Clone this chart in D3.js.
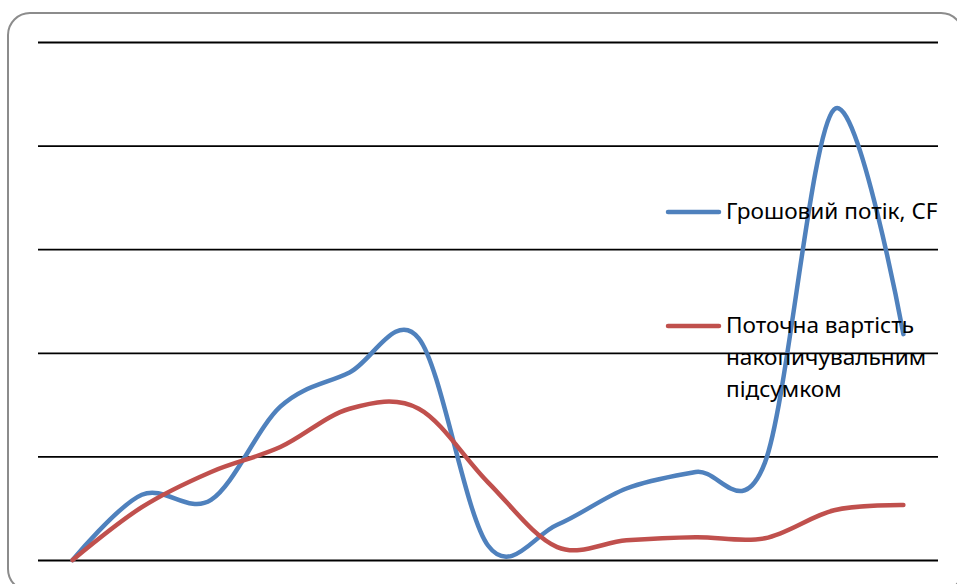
<!DOCTYPE html>
<html>
<head>
<meta charset="utf-8">
<script src="https://cdn.jsdelivr.net/npm/d3@7"></script>
<style>
  html, body { margin: 0; padding: 0; background: #fff; }
  svg { display: block; }
</style>
</head>
<body>
<svg id="chart" width="957" height="584"></svg>
<script>
// Periods (categories along the horizontal axis)
const periods = ["0", "1", "2", "3", "4", "5", "6", "7", "8", "9", "10", "11", "12"];

// Cash flow per period
const cashFlow = [0, 6.3, 5.8, 14.8, 18.1, 21.4, 1.4, 3.4, 6.9, 8.5, 9.4, 43.5, 21.8];

// Present value, cumulative
const presentValueCum = [0, 5.1, 8.5, 10.9, 14.6, 14.6, 7.5, 1.25, 1.9, 2.2, 2.1, 4.8, 5.3];

// Value gridlines
const gridTicks = [0, 10, 20, 30, 40, 50];

const seriesNames = ["Грошовий потік, CF", "Поточна вартість накопичувальним підсумком"];
const seriesColors = ["#4F81BD", "#C0504D"];

const svg = d3.select("#chart");

// Chart frame
svg.append("rect")
  .attr("x", 8).attr("y", 13)
  .attr("width", 955).attr("height", 578)
  .attr("rx", 22).attr("ry", 22)
  .attr("fill", "#fff")
  .attr("stroke", "#8c8c8c")
  .attr("stroke-width", 2);

const plot = { left: 38, right: 938, top: 42, bottom: 560 };

const x = d3.scalePoint()
  .domain(periods)
  .range([plot.left, plot.right])
  .padding(0.5);

const y = d3.scaleLinear()
  .domain([0, 50])
  .range([plot.bottom, plot.top]);

// Horizontal gridlines
const yAxis = d3.axisLeft(y)
  .tickValues(gridTicks)
  .tickSize(-(plot.right - plot.left))
  .tickFormat("");

const gAxis = svg.append("g")
  .attr("transform", `translate(${plot.left},0)`)
  .call(yAxis);
gAxis.select(".domain").remove();
gAxis.selectAll(".tick line")
  .attr("stroke", "#000")
  .attr("stroke-width", 1.8);

// Smoothed lines
const line = d3.line()
  .x((d, i) => x(periods[i]))
  .y(d => y(d))
  .curve(d3.curveCardinal.tension(0));

[cashFlow, presentValueCum].forEach((vals, k) => {
  svg.append("path")
    .datum(vals)
    .attr("d", line)
    .attr("fill", "none")
    .attr("stroke", seriesColors[k])
    .attr("stroke-width", 4.5)
    .attr("stroke-linecap", "round")
    .attr("stroke-linejoin", "round");
});

// Legend
const legend = svg.append("g").attr("class", "legend");
const legendFont = "'Noto Sans', 'DejaVu Sans', sans-serif";
const legendItems = [
  { name: seriesNames[0], lines: ["Грошовий потік, CF"], top: 219 },
  { name: seriesNames[1], lines: ["Поточна вартість", "накопичувальним", "підсумком"], top: 333 }
];

legendItems.forEach((item, k) => {
  legend.append("line")
    .attr("x1", 668).attr("x2", 719)
    .attr("y1", item.top - 7).attr("y2", item.top - 7)
    .attr("stroke", seriesColors[k])
    .attr("stroke-width", 4.5)
    .attr("stroke-linecap", "round");
  const t = legend.append("text")
    .attr("x", 726)
    .attr("y", item.top)
    .attr("font-family", legendFont)
    .attr("font-size", 22.6)
    .attr("fill", "#000");
  item.lines.forEach((ln, j) => {
    t.append("tspan")
      .attr("x", 726)
      .attr("dy", j === 0 ? 0 : 32)
      .text(ln);
  });
});
</script>
</body>
</html>
